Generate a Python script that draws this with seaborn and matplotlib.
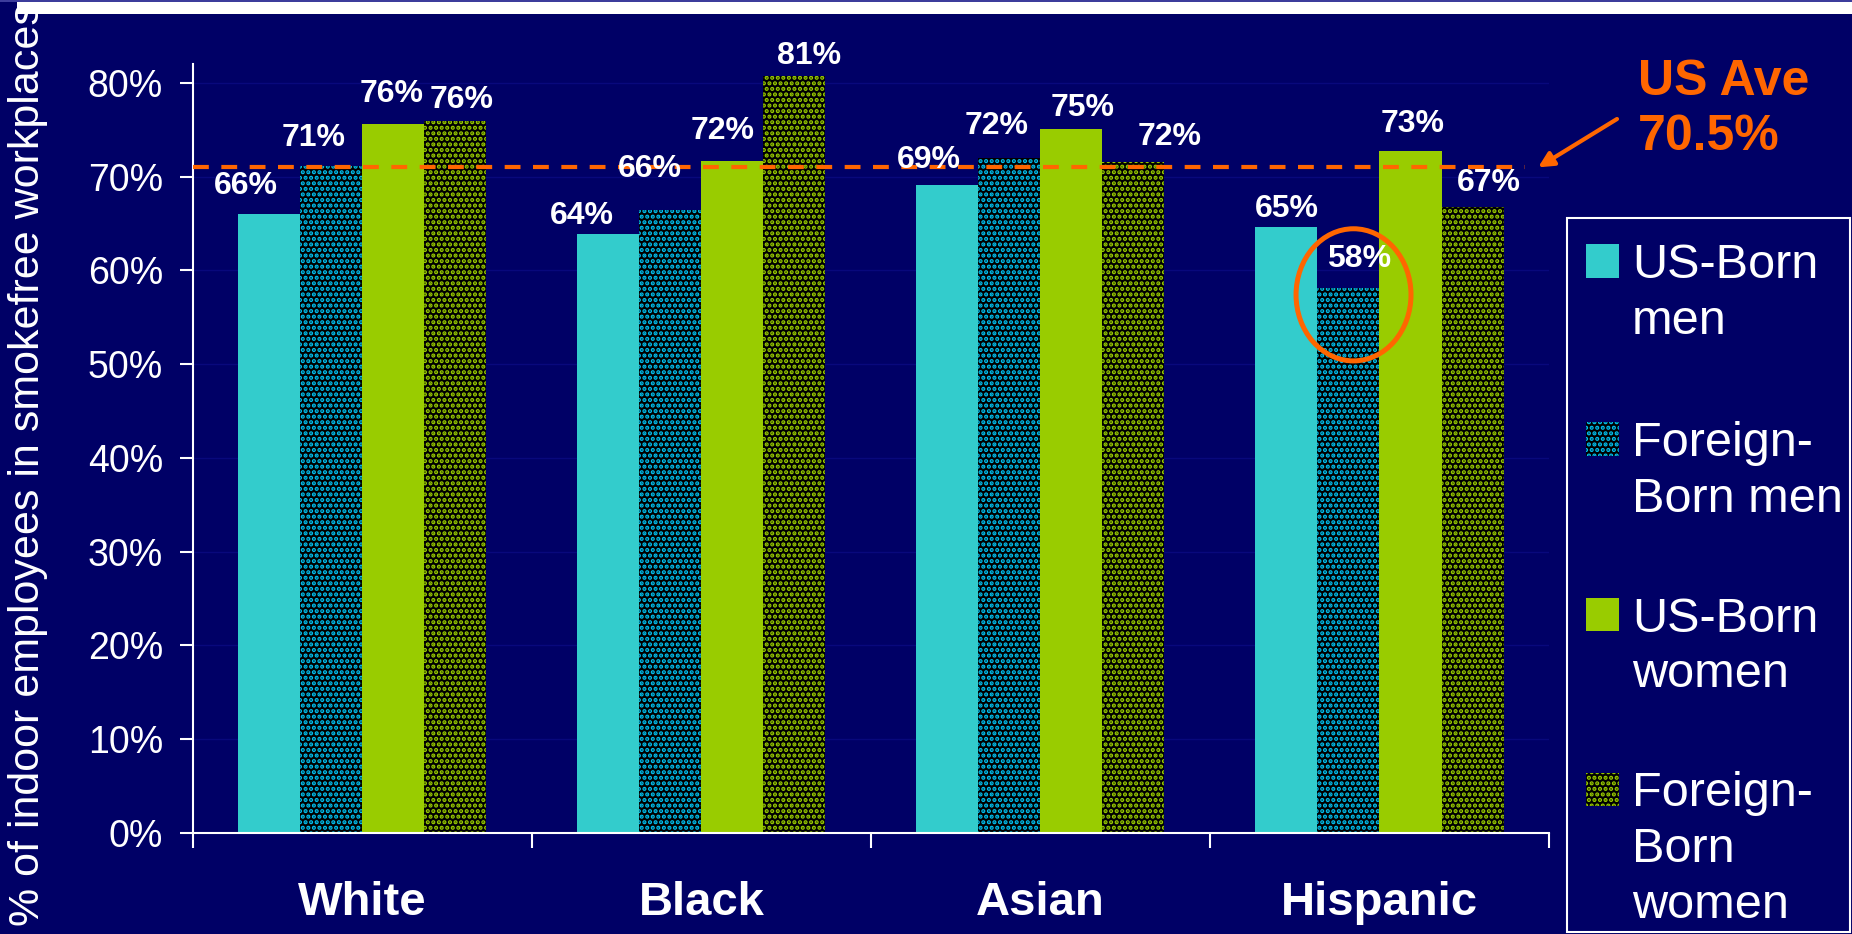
import numpy as np
import pandas as pd
import seaborn as sns
import matplotlib.pyplot as plt
from matplotlib.patches import Rectangle, Ellipse

# data
groups = ["White", "Black", "Asian", "Hispanic"]
series = ["US-Born men", "Foreign-Born men", "US-Born women", "Foreign-Born women"]
legend_labels = ["US-Born\nmen", "Foreign-\nBorn men", "US-Born\nwomen", "Foreign-\nBorn\nwomen"]
us_born_men = [66.0, 63.9, 69.1, 64.6]
foreign_born_men = [71.2, 66.4, 72.0, 58.1]
us_born_women = [75.6, 71.7, 75.1, 72.8]
foreign_born_women = [76.0, 80.8, 71.6, 66.8]
us_ave_text = ["US Ave", "70.5%"]
us_ave_line = 71.0  # where the dashed line sits on the slide
yticks = list(range(0, 81, 10))

# label nudges (pixels) as placed on the slide, per series then per group
label_dx = [[-23, -26, -18, 0], [-18, -20, -13, 11], [-2, -10, 11, 2], [6, 15, 36, 16]]
label_dy = [[31, 21, 28, 21], [31, 44, 35, 32], [33, 33, 24, 30], [24, 23, 28, 27]]

BG = "#000066"
CYAN = "#33CCCC"
GREEN = "#99CC00"
DOT_BLUE = "#00C0F0"
ORANGE = "#FF6600"

plt.rcParams["font.family"] = ["Liberation Sans", "DejaVu Sans"]
plt.rcParams["hatch.linewidth"] = 2.1

df = pd.DataFrame({
    "group": groups * 4,
    "series": np.repeat(series, len(groups)),
    "value": us_born_men + foreign_born_men + us_born_women + foreign_born_women,
})

W, H = 1852, 934
fig = plt.figure(figsize=(W / 100, H / 100), dpi=100)
fig.patch.set_facecolor(BG)
ax = fig.add_axes([192.7 / W, 1 - 832.7 / H, (1549 - 192.7) / W, (832.7 - 64.3) / H])
ax.set_facecolor(BG)

sns.barplot(data=df, x="group", y="value", hue="series", order=groups, hue_order=series,
            palette=[CYAN, DOT_BLUE, GREEN, GREEN], saturation=1, width=0.732,
            linewidth=0, legend=False, ax=ax, zorder=2)

dot_colors = [None, DOT_BLUE, None, GREEN]
for i, cont in enumerate(ax.containers):
    for j, bar in enumerate(cont):
        if dot_colors[i]:
            bar.set_facecolor("black")
            bar.set_edgecolor(dot_colors[i])
            bar.set_hatch("...")
            bar.set_linewidth(0)
        h = bar.get_height()
        ax.annotate(f"{h:.0f}%", xy=(bar.get_x() + bar.get_width() / 2, h),
                    xytext=(label_dx[i][j], label_dy[i][j] - 11), textcoords="offset pixels",
                    ha="center", va="baseline", color="white", fontsize=23,
                    fontweight="bold", zorder=5)

# circle around Hispanic foreign-born men
hb = ax.containers[1][3]
ax.add_patch(Ellipse((hb.get_x() + hb.get_width() / 2 + 0.015, hb.get_height() - 0.7),
                     0.339, 14.1, fill=False, edgecolor=ORANGE, lw=3.6, zorder=6))

# US average
ax.hlines(us_ave_line, -0.5, 3.43, colors=ORANGE, lw=3, linestyles=(0, (3.8, 3)), zorder=4)
ax.annotate("", xy=(3.468, us_ave_line), xytext=(1617, H - 119), textcoords="figure pixels",
            arrowprops=dict(arrowstyle="-|>,head_length=0.9,head_width=0.45", color=ORANGE,
                            lw=3, shrinkA=0, shrinkB=0), annotation_clip=False)
fig.text(1638 / W, 1 - 82 / H, us_ave_text[0], ha="left", va="center", color=ORANGE,
         fontsize=36, fontweight="bold")
fig.text(1638 / W, 1 - 137 / H, us_ave_text[1], ha="left", va="center", color=ORANGE,
         fontsize=36, fontweight="bold")

# axes styling
ax.set_xlim(-0.5, 3.5)
ax.set_ylim(0, 82)
ax.set_yticks(yticks)
ax.set_yticklabels([f"{t}%" for t in yticks])
ax.yaxis.grid(True, color="#08087c", lw=1)
ax.set_axisbelow(True)
ax.set_xlabel("")
ax.set_ylabel("")
for side in ["top", "right"]:
    ax.spines[side].set_visible(False)
for side in ["left", "bottom"]:
    ax.spines[side].set_color("white")
    ax.spines[side].set_linewidth(1.5)
ax.tick_params(axis="y", colors="white", length=9.4, width=1.5, pad=12, labelsize=27)
ax.set_xticks(range(len(groups)))
ax.set_xticklabels(groups, fontweight="bold", fontsize=34)
ax.tick_params(axis="x", which="major", length=0, pad=35, labelcolor="white")
ax.set_xticks(np.arange(-0.5, len(groups), 1), minor=True)
ax.tick_params(axis="x", which="minor", length=10.5, width=1.5, color="white")

fig.text(28 / W, 1 - 926 / H, "% of indoor employees in smokefree workplaces", rotation=90,
         ha="center", va="bottom", color="white", fontsize=31)

# legend box, drawn the way the slide lays it out
fig.add_artist(Rectangle((1567 / W, 1 - 932 / H), (1850 - 1567) / W, (932 - 218) / H,
                         transform=fig.transFigure, fill=False, edgecolor="white", lw=1.5))
face = [CYAN, "black", GREEN, "black"]
first_line = [261, 439, 614, 789]
for i, lab in enumerate(legend_labels):
    y0 = first_line[i]
    fig.add_artist(Rectangle((1586 / W, 1 - (y0 + 16.5) / H), 33 / W, 33 / H,
                             transform=fig.transFigure, facecolor=face[i],
                             edgecolor=dot_colors[i] or face[i], lw=0,
                             hatch="..." if dot_colors[i] else None))
    for k, line in enumerate(lab.split("\n")):
        fig.text(1632 / W, 1 - (y0 + 17.5 + k * 55.5) / H, line, ha="left", va="baseline",
                 color="white", fontsize=35)

# white title strip at the top of the slide
fig.add_artist(Rectangle((17 / W, 1 - 14 / H), 1 - 17 / W, 14 / H, transform=fig.transFigure,
                         facecolor="white", edgecolor="none", zorder=10))
fig.add_artist(Rectangle((0, 1 - 1.5 / H), 1, 1.5 / H, transform=fig.transFigure,
                         facecolor="#3c3c9c", edgecolor="none", zorder=11))

fig.savefig("out.png", dpi=100, facecolor=BG)
